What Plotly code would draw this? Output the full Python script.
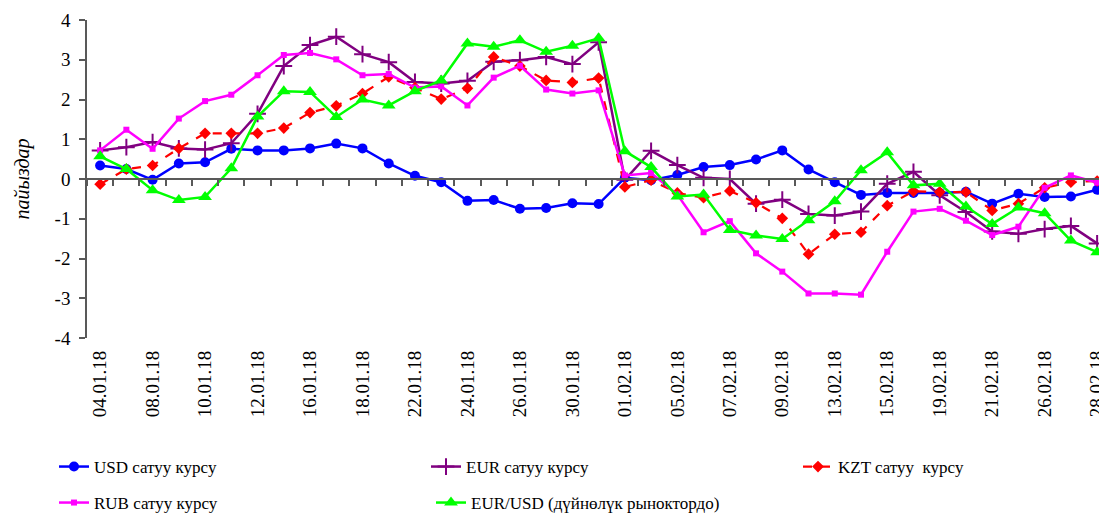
import plotly.graph_objects as go

dates = ["04.01.18", "05.01.18", "08.01.18", "09.01.18", "10.01.18", "11.01.18", "12.01.18",
         "15.01.18", "16.01.18", "17.01.18", "18.01.18", "19.01.18", "22.01.18", "23.01.18",
         "24.01.18", "25.01.18", "26.01.18", "29.01.18", "30.01.18", "31.01.18", "01.02.18",
         "02.02.18", "05.02.18", "06.02.18", "07.02.18", "08.02.18", "09.02.18", "12.02.18",
         "13.02.18", "14.02.18", "15.02.18", "16.02.18", "19.02.18", "20.02.18", "21.02.18",
         "22.02.18", "26.02.18", "27.02.18", "28.02.18"]

usd = [0.34, 0.25, -0.02, 0.39, 0.42, 0.76, 0.72, 0.72, 0.77, 0.89,
       0.77, 0.39, 0.08, -0.08, -0.55, -0.53, -0.75, -0.73, -0.61, -0.63,
       0.03, -0.03, 0.10, 0.30, 0.35, 0.49, 0.72, 0.24, -0.08, -0.40,
       -0.35, -0.35, -0.35, -0.32, -0.62, -0.37, -0.45, -0.44, -0.27]
eur = [0.72, 0.80, 0.93, 0.77, 0.74, 0.90, 1.64, 2.84, 3.37, 3.58,
       3.14, 2.94, 2.44, 2.40, 2.47, 2.95, 2.99, 3.07, 2.89, 3.44,
       -0.02, 0.71, 0.35, 0.03, 0.00, -0.62, -0.52, -0.88, -0.92, -0.82,
       -0.12, 0.18, -0.41, -0.83, -1.32, -1.38, -1.26, -1.18, -1.62]
kzt = [-0.13, 0.25, 0.34, 0.77, 1.15, 1.15, 1.15, 1.28, 1.67, 1.84,
       2.15, 2.57, 2.30, 2.01, 2.28, 3.07, 2.84, 2.48, 2.43, 2.54,
       -0.20, -0.03, -0.35, -0.47, -0.30, -0.60, -0.99, -1.89, -1.39, -1.34,
       -0.67, -0.31, -0.33, -0.33, -0.79, -0.62, -0.22, -0.08, -0.05]
rub = [0.72, 1.24, 0.76, 1.52, 1.96, 2.12, 2.61, 3.12, 3.17, 3.01,
       2.61, 2.64, 2.30, 2.33, 1.85, 2.55, 2.85, 2.25, 2.15, 2.23,
       0.09, 0.15, -0.39, -1.34, -1.06, -1.87, -2.33, -2.88, -2.88, -2.91,
       -1.83, -0.82, -0.75, -1.05, -1.41, -1.20, -0.22, 0.09, -0.09]
eurusd = [0.57, 0.25, -0.28, -0.53, -0.45, 0.27, 1.57, 2.21, 2.19, 1.56,
          2.00, 1.85, 2.21, 2.48, 3.41, 3.33, 3.49, 3.20, 3.35, 3.54,
          0.70, 0.30, -0.44, -0.39, -1.28, -1.42, -1.51, -1.04, -0.56, 0.22,
          0.67, -0.16, -0.12, -0.69, -1.13, -0.72, -0.86, -1.55, -1.84]

names = ["USD сатуу курсу", "EUR сатуу курсу", "KZT сатуу  курсу",
         "RUB сатуу курсу", "EUR/USD (дүйнөлүк рыноктордо)"]
y_ticks = [-4, -3, -2, -1, 0, 1, 2, 3, 4]
y_ticktext = ["-4", "-3", "-2", "-1", "0", "1", "2", "3", "4"]

FONT = "Liberation Serif, Times New Roman, serif"
W, H = 1099, 505   # page body keeps an 8 px margin inside the 1107x513 window
fig = go.Figure()

fig.add_trace(go.Scatter(x=dates, y=usd, name=names[0], mode="lines+markers",
                         line=dict(color="#0000FF", width=2.5),
                         marker=dict(symbol="circle", size=10, color="#0000FF"),
                         legend="legend"))
fig.add_trace(go.Scatter(x=dates, y=eur, name=names[1], mode="lines+markers",
                         line=dict(color="#800080", width=2.5),
                         marker=dict(symbol="cross-thin-open", size=12, color="#800080",
                                     line=dict(color="#800080", width=2)),
                         legend="legend2"))
fig.add_trace(go.Scatter(x=dates, y=kzt, name=names[2], mode="lines+markers",
                         line=dict(color="#FF0000", width=2.2, dash="dash"),
                         marker=dict(symbol="diamond", size=9, color="#FF0000"),
                         legend="legend3"))
fig.add_trace(go.Scatter(x=dates, y=rub, name=names[3], mode="lines+markers",
                         line=dict(color="#FF00FF", width=2.5),
                         marker=dict(symbol="square", size=6, color="#FF00FF"),
                         legend="legend4"))
fig.add_trace(go.Scatter(x=dates, y=eurusd, name=names[4], mode="lines+markers",
                         line=dict(color="#00FF00", width=2.5),
                         marker=dict(symbol="triangle-up", size=12, color="#00FF00"),
                         legend="legend5"))
# carrier (no visible marks) for the zero-level category axis with boundary ticks
fig.add_trace(go.Scatter(x=dates, y=[None] * len(dates), xaxis="x2", mode="lines",
                         showlegend=False, hoverinfo="skip"))

n = len(dates)
xr = [-0.5, n - 0.7]
axis_col = "#595959"


def leg(xpx, ypx):
    return dict(orientation="h", xref="container", yref="container",
                x=xpx / W, y=1 - ypx / H, xanchor="left", yanchor="middle",
                font=dict(family=FONT, size=17, color="black"),
                bgcolor="rgba(0,0,0,0)")


fig.update_layout(
    width=W, height=H,
    margin=dict(l=79, r=0, t=12, b=175),
    paper_bgcolor="white", plot_bgcolor="white",
    font=dict(family=FONT, size=19, color="black"),
    xaxis=dict(type="category", categoryorder="array", categoryarray=dates,
               range=xr, anchor="y", side="bottom",
               tickmode="array", tickvals=dates[0::2], ticktext=dates[0::2],
               tickangle=-90, ticks="", showline=False, showgrid=False, zeroline=False,
               ticklabelstandoff=8, tickfont=dict(family=FONT, size=19, color="black")),
    xaxis2=dict(type="category", categoryorder="array", categoryarray=dates,
                overlaying="x", range=xr, anchor="free", position=0.5, side="bottom",
                showline=True, linecolor=axis_col, linewidth=1.5,
                ticks="outside", ticklen=6, tickcolor=axis_col, tickwidth=1.5,
                tickson="boundaries", tickmode="linear", tick0=0, dtick=1,
                showticklabels=False, showgrid=False, zeroline=False),
    yaxis=dict(range=[-4, 4], tickmode="array", tickvals=y_ticks, ticktext=y_ticktext,
               showline=True, linecolor=axis_col, linewidth=1.5,
               ticks="outside", ticklen=6, tickcolor=axis_col, tickwidth=1.5,
               showgrid=False, zeroline=False, ticklabelstandoff=5,
               tickfont=dict(family=FONT, size=19, color="black"),
               title=dict(text="<i>пайыздар</i>", standoff=20,
                          font=dict(family=FONT, size=20, color="black"))),
    legend=leg(46, 459),
    legend2=leg(418, 459),
    legend3=leg(790, 459),
    legend4=leg(46, 495),
    legend5=leg(423, 495),
)

fig.write_html("out.html")
